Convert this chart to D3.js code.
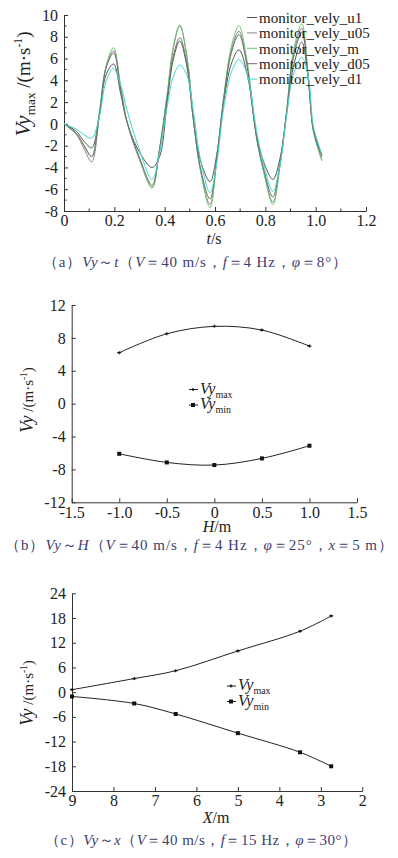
<!DOCTYPE html>
<html>
<head>
<meta charset="utf-8">
<script src="https://cdn.jsdelivr.net/npm/d3@7"></script>
<style>
  body { margin: 0; background: #fff; }
  svg { display: block; }
  svg text { font-family: "Liberation Serif", "Times New Roman", serif; }
</style>
</head>
<body>
<div id="chart"></div>
<script>
// ---- panel (a): Vy over time, five monitors
const tGrid = [0, 0.05, 0.08, 0.11, 0.14, 0.167, 0.197, 0.225, 0.25, 0.3, 0.35, 0.38, 0.41, 0.435, 0.46, 0.488, 0.514, 0.54, 0.58, 0.607, 0.633, 0.666, 0.695, 0.726, 0.765, 0.792, 0.83, 0.858, 0.885, 0.911, 0.945, 0.971, 0.991, 1.025]
const vyU1  = [0, -0.7, -1.6, -2.2, 0.8, 4.5, 5.5, 2.8, 0.2, -2.6, -4.0, -3.0, 2.0, 6.0, 7.6, 5.3, 0.4, -3.2, -5.3, -2.8, 1.8, 5.6, 6.8, 4.8, -1.0, -3.4, -5.1, -3.2, 1.0, 5.2, 7.5, 4.0, -0.5, -2.9]
const vyU05 = [0, -1.0, -2.3, -3.5, 0.6, 5.2, 6.7, 3.3, 0.2, -3.3, -5.8, -2.3, 2.6, 7.0, 9.0, 6.2, 0.5, -4.0, -7.4, -3.3, 2.0, 6.9, 8.5, 5.7, -1.3, -4.2, -7.2, -3.9, 1.2, 6.3, 8.8, 4.2, -0.7, -3.4]
const vyM   = [0, -0.9, -2.0, -3.0, 1.0, 5.3, 7.0, 3.5, 0.3, -3.2, -5.9, -2.2, 2.8, 7.2, 9.1, 6.3, 0.6, -4.0, -7.7, -3.3, 2.2, 7.2, 9.0, 6.0, -1.2, -4.3, -7.4, -3.9, 1.3, 6.6, 9.2, 4.3, -0.6, -3.3]
const vyD05 = [0, -0.9, -2.0, -3.0, 0.8, 5.1, 6.5, 3.2, 0.2, -3.1, -5.6, -2.3, 2.4, 6.3, 7.9, 5.6, 0.4, -3.8, -6.9, -3.1, 2.0, 6.6, 8.2, 5.5, -1.2, -4.0, -6.7, -3.6, 1.2, 6.0, 8.4, 4.1, -0.6, -3.0]
const vyD1  = [0, -0.5, -1.0, -1.3, 0.6, 3.9, 5.1, 3.6, 1.3, -2.4, -5.1, -2.6, 1.6, 4.4, 5.4, 4.5, 1.2, -3.0, -6.3, -3.6, 1.2, 4.8, 5.9, 4.7, -0.6, -3.6, -6.2, -3.8, 0.8, 4.5, 6.1, 4.3, -0.2, -2.8]
const monitorNames = ["monitor_vely_u1", "monitor_vely_u05", "monitor_vely_m", "monitor_vely_d05", "monitor_vely_d1"]
const monitorColors = ["#555555", "#8c8088", "#6cc86c", "#6e6e6e", "#3fd9cf"]
const aXTicks = [0, 0.2, 0.4, 0.6, 0.8, 1.0, 1.2]
const aYTicks = [-8, -6, -4, -2, 0, 2, 4, 6, 8, 10]

// ---- panel (b): Vy over H
const hPos = [-1, -0.5, 0, 0.5, 1]
const hVyMax = [6.2, 8.5, 9.4, 8.95, 7.0]
const hVyMin = [-6.1, -7.15, -7.47, -6.66, -5.12]
const bXTicks = [-1.5, -1.0, -0.5, 0, 0.5, 1.0, 1.5]
const bYTicks = [-12, -8, -4, 0, 4, 8, 12]

// ---- panel (c): Vy over x
const xPos = [9, 7.5, 6.5, 5, 3.5, 2.75]
const xVyMax = [0.6, 3.3, 5.2, 10.0, 14.8, 18.5]
const xVyMin = [-1.05, -2.75, -5.3, -9.95, -14.6, -18.0]
const cXTicks = [9, 8, 7, 6, 5, 4, 3, 2]
const cYTicks = [-24, -18, -12, -6, 0, 6, 12, 18, 24]

const W = 398, H = 858
const axisColor = "#333"
const capColor = "#3b4070"
const serif = "Liberation Serif"

const svg = d3.select("#chart").append("svg")
    .attr("width", W).attr("height", H)

const intFmt = d => String(d)
const decFmt = d => d === 0 ? "0" : d.toFixed(1)

function drawAxes(x, y, xTicks, yTicks, xMinor, yMinor, xFmt) {
    const g = svg.append("g")
    const yAxis = d3.axisLeft(y).tickValues(yTicks).tickSizeInner(-4).tickSizeOuter(0)
        .tickPadding(6).tickFormat(intFmt)
    const xAxis = d3.axisBottom(x).tickValues(xTicks).tickSizeInner(-4).tickSizeOuter(0)
        .tickPadding(4).tickFormat(xFmt)

    const ya = g.append("g").attr("transform", `translate(${x.range()[0]},0)`).call(yAxis)
    const xa = g.append("g").attr("transform", `translate(0,${y.range()[0]})`).call(xAxis)

    for (const a of [ya, xa]) {
        a.attr("font-family", serif)
        a.select(".domain").attr("stroke", axisColor)
        a.selectAll(".tick line").attr("stroke", axisColor)
        a.selectAll(".tick text").attr("fill", "#222").attr("font-size", 16)
    }
    // minor ticks
    if (yMinor) {
        g.selectAll(".ymin").data(yMinor).enter().append("line")
            .attr("x1", x.range()[0]).attr("x2", x.range()[0] + 2.5)
            .attr("y1", d => y(d)).attr("y2", d => y(d)).attr("stroke", axisColor)
    }
    if (xMinor) {
        g.selectAll(".xmin").data(xMinor).enter().append("line")
            .attr("x1", d => x(d)).attr("x2", d => x(d))
            .attr("y1", y.range()[0]).attr("y2", y.range()[0] - 2.5).attr("stroke", axisColor)
    }
    return g
}

function vyLabel(cx, cy, sub, big, small) {
    const t = svg.append("text")
        .attr("transform", `translate(${cx},${cy}) rotate(-90)`)
        .attr("text-anchor", "middle").attr("fill", "#222")
    t.append("tspan").attr("font-style", "italic").attr("font-size", big).text("Vy")
    if (sub) t.append("tspan").attr("font-size", small * 0.7).attr("dy", big * 0.22).text(sub)
    t.append("tspan").attr("font-size", small).attr("dy", sub ? -big * 0.22 : 0).text(" /(m·s")
    t.append("tspan").attr("font-size", small * 0.62).attr("dy", -small * 0.4).text("-1")
    t.append("tspan").attr("font-size", small).attr("dy", small * 0.4).text(")")
}

function xLabel(cx, by, name) {
    const t = svg.append("text").attr("x", cx).attr("y", by)
        .attr("text-anchor", "middle").attr("font-size", 16).attr("fill", "#222")
    t.append("tspan").attr("font-style", "italic").text(name)
    t.append("tspan").text("/" + (name === "t" ? "s" : "m"))
}

function caption(cx, by, width, parts) {
    const t = svg.append("text").attr("x", cx).attr("y", by)
        .attr("text-anchor", "middle").attr("font-size", 15).attr("fill", capColor)
        .attr("textLength", width).attr("lengthAdjust", "spacing")
    parts.forEach(p => {
        t.append("tspan").attr("font-style", p[1] ? "italic" : "normal").text(p[0])
    })
}

// ================= panel (a)
{
    const x = d3.scaleLinear().domain([0, 1.2]).range([64, 366])
    const y = d3.scaleLinear().domain([-8, 10]).range([211, 15])
    const xMinor = d3.range(0.1, 1.2, 0.2)
    const yMinor = d3.range(-7, 10, 2)
    drawAxes(x, y, aXTicks, aYTicks, xMinor, yMinor, decFmt)

    const series = [vyU1, vyU05, vyM, vyD05, vyD1]
    const line = d3.line()
        .x((d, i) => x(tGrid[i]))
        .y(d => y(d))
        .curve(d3.curveCatmullRom.alpha(0.5))

    svg.append("g").selectAll("path")
        .data(series)
        .enter().append("path")
        .attr("d", line)
        .attr("fill", "none")
        .attr("stroke", (d, i) => monitorColors[i])
        .attr("stroke-width", 1)

    const leg = svg.append("g").selectAll("g")
        .data(monitorNames)
        .enter().append("g")
        .attr("transform", (d, i) => `translate(247,${17.5 + i * 15.4})`)
    leg.append("line").attr("x1", 0).attr("x2", 10)
        .attr("stroke", (d, i) => monitorColors[i])
    leg.append("text").attr("x", 12).attr("dy", "0.35em")
        .attr("font-size", 15).attr("fill", "#222")
        .text(d => d)

    vyLabel(30, 84, "max", 22, 19)
    xLabel(214, 244, "t")
    caption(195, 267, 304, [["（a）", 0], ["Vy", 1], ["～", 0], ["t", 1], ["（", 0], ["V", 1], ["＝40 m/s，", 0], ["f", 1], ["＝4 Hz，", 0], ["φ", 1], ["＝8°）", 0]])
}

function drawPair(x, y, xs, maxV, minV, legX, legY) {
    const line = d3.line().curve(d3.curveCatmullRom.alpha(0.5))
    const ptsMax = xs.map((d, i) => [x(d), y(maxV[i])])
    const ptsMin = xs.map((d, i) => [x(d), y(minV[i])])
    for (const pts of [ptsMax, ptsMin]) {
        svg.append("path").attr("d", line(pts)).attr("fill", "none")
            .attr("stroke", "#222").attr("stroke-width", 1)
    }
    svg.append("g").selectAll("path").data(ptsMax).enter().append("path")
        .attr("d", d => `M${d[0] - 2},${d[1]}h4M${d[0]},${d[1] - 1.5}v3`)
        .attr("stroke", "#111").attr("stroke-width", 1.2)
    svg.append("g").selectAll("rect").data(ptsMin).enter().append("rect")
        .attr("x", d => d[0] - 2).attr("y", d => d[1] - 2)
        .attr("width", 4).attr("height", 4).attr("fill", "#111")

    // legend
    const rows = [["max", 0], ["min", 1]]
    rows.forEach(([sub, k]) => {
        const yy = legY + k * 15.5
        svg.append("line").attr("x1", legX - 4).attr("x2", legX + 5)
            .attr("y1", yy).attr("y2", yy).attr("stroke", "#222")
        if (k === 0) {
            svg.append("path").attr("d", `M${legX - 1.5},${yy}h3M${legX},${yy - 1.5}v3`)
                .attr("stroke", "#111").attr("stroke-width", 1.2)
        } else {
            svg.append("rect").attr("x", legX - 2).attr("y", yy - 2)
                .attr("width", 4).attr("height", 4).attr("fill", "#111")
        }
        const t = svg.append("text").attr("x", legX + 7).attr("y", yy + 4)
            .attr("fill", "#222")
        t.append("tspan").attr("font-style", "italic").attr("font-size", 16).text("Vy")
        t.append("tspan").attr("font-size", 10).attr("dy", 4).text(sub)
    })
}

// ================= panel (b)
{
    const x = d3.scaleLinear().domain([-1.5, 1.5]).range([71.7, 357])
    const y = d3.scaleLinear().domain([-12, 12]).range([502.3, 305])
    drawAxes(x, y, bXTicks, bYTicks, null, null, decFmt)
    drawPair(x, y, hPos, hVyMax, hVyMin, 193, 389.5)
    vyLabel(33, 400, null, 18, 15)
    xLabel(217, 532, "H")
    caption(199, 550, 388, [["（b）", 0], ["Vy", 1], ["～", 0], ["H", 1], ["（", 0], ["V", 1], ["＝40 m/s，", 0], ["f", 1], ["＝4 Hz，", 0], ["φ", 1], ["＝25°，", 0], ["x", 1], ["＝5 m）", 0]])
}

// ================= panel (c)
{
    const x = d3.scaleLinear().domain([9, 2]).range([72, 362.3])
    const y = d3.scaleLinear().domain([-24, 24]).range([791, 593.3])
    drawAxes(x, y, cXTicks, cYTicks, null, null, intFmt)
    drawPair(x, y, xPos, xVyMax, xVyMin, 231, 686)
    vyLabel(33, 693, null, 18, 15)
    xLabel(216, 823, "X")
    caption(201, 845, 312, [["（c）", 0], ["Vy", 1], ["～", 0], ["x", 1], ["（", 0], ["V", 1], ["＝40 m/s，", 0], ["f", 1], ["＝15 Hz，", 0], ["φ", 1], ["＝30°）", 0]])
}
</script>
</body>
</html>
